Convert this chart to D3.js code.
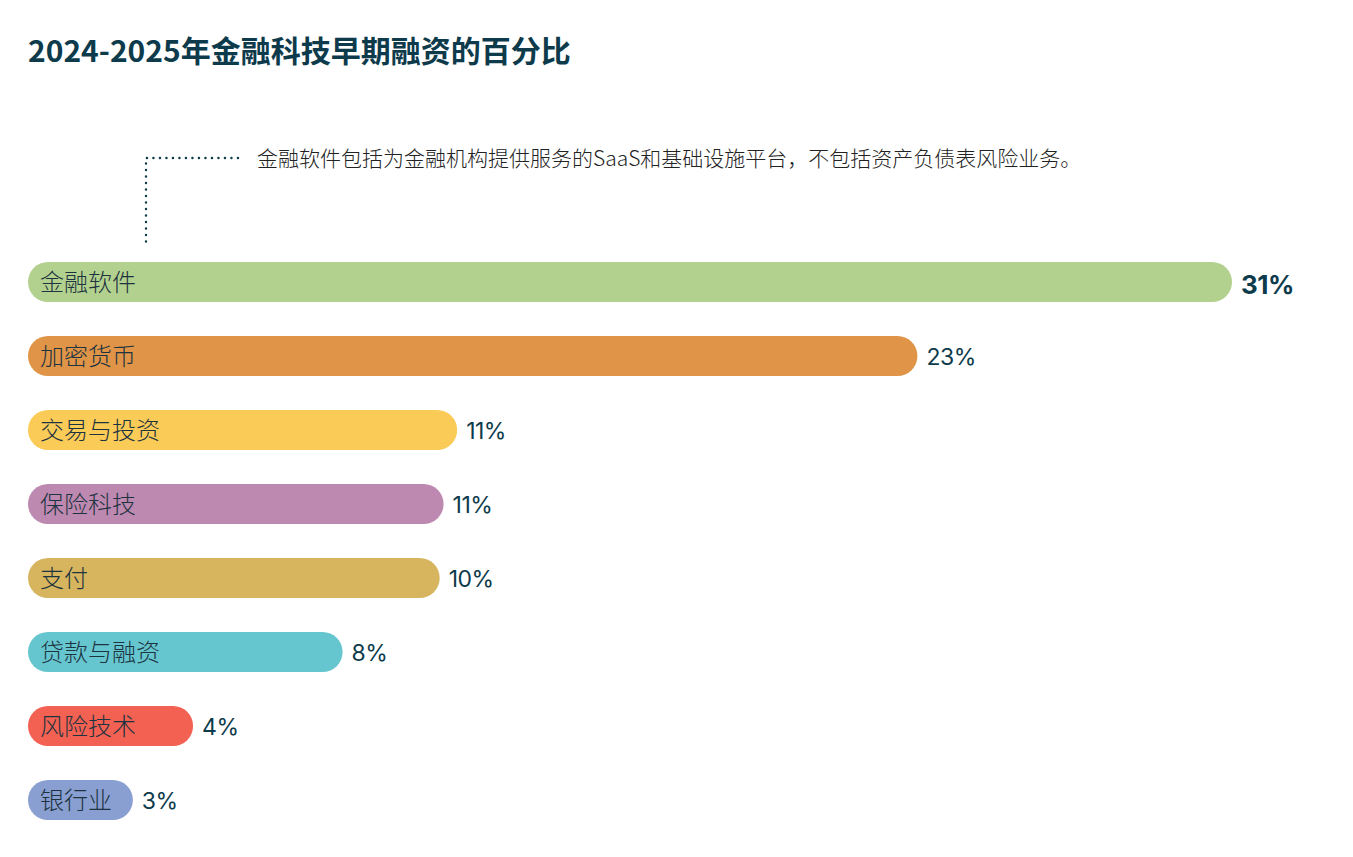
<!DOCTYPE html>
<html>
<head>
<meta charset="utf-8">
<script src="https://cdn.jsdelivr.net/npm/d3@7"></script>
<style>
  body { margin: 0; background: #fff; }
  svg { display: block; }
</style>
</head>
<body>
<div id="chart"></div>
<script>
// data
var categories = ["金融软件", "加密货币", "交易与投资", "保险科技", "支付", "贷款与融资", "风险技术", "银行业"];
var shares = [31, 22.9, 11.05, 10.7, 10.6, 8.1, 4.25, 2.7];
var shareLabels = ["31%", "23%", "11%", "11%", "10%", "8%", "4%", "3%"];
var barColors = ["#b3d18e", "#df9447", "#fbcb57", "#be89b0", "#d6b55e", "#66c6cf", "#f26152", "#8a9fd1"];

var titleText = "2024-2025年金融科技早期融资的百分比";
var noteText = "金融软件包括为金融机构提供服务的SaaS和基础设施平台，不包括资产负债表风险业务。";

var width = 1353, height = 857;
var margin = {top: 262, left: 28};
var barH = 40, step = 74;

var svg = d3.select("#chart")
  .append("svg")
    .attr("width", width)
    .attr("height", height);

// title
svg.append("text")
  .attr("x", 28)
  .attr("y", 62)
  .style("font-family", "'Noto Sans CJK SC', 'Noto Sans', sans-serif")
  .style("font-weight", 700)
  .style("font-size", "30px")
  .style("fill", "#0e3b4b")
  .text(titleText);

// x scale: 31% spans to ~1232px
var x = d3.scaleLinear()
  .domain([0, 31])
  .range([0, 1204]);

// band scale laid out so each row is `step` apart with bars `barH` tall
var y = d3.scaleBand()
  .domain(categories)
  .range([margin.top, margin.top + step * (categories.length - 1) + barH])
  .paddingInner((step - barH) / step)
  .paddingOuter(0);

var rows = svg.append("g")
  .selectAll("g")
  .data(categories)
  .enter()
  .append("g");

rows.append("rect")
  .attr("x", margin.left)
  .attr("y", function(d) { return y(d); })
  .attr("width", function(d, i) { return x(shares[i]); })
  .attr("height", y.bandwidth())
  .attr("rx", y.bandwidth() / 2)
  .style("fill", function(d, i) { return barColors[i]; });

rows.append("text")
  .attr("x", margin.left + 12)
  .attr("y", function(d) { return y(d) + y.bandwidth() / 2; })
  .attr("dy", "0.36em")
  .style("font-family", "'Noto Sans CJK SC', sans-serif")
  .style("font-weight", 300)
  .style("font-size", "24px")
  .style("fill", "#1d3340")
  .text(function(d) { return d; });

rows.append("text")
  .attr("x", function(d, i) { return margin.left + x(shares[i]) + 9; })
  .attr("y", function(d, i) { return y(d) + y.bandwidth() / 2 + (i == 0 ? 3 : 1); })
  .attr("dy", "0.36em")
  .style("font-family", "Inter, Lato, sans-serif")
  .style("font-weight", function(d, i) { return i == 0 ? 700 : 400; })
  .style("font-size", function(d, i) { return i == 0 ? "26px" : "23px"; })
  .style("letter-spacing", "-0.5px")
  .style("fill", "#0e3b4b")
  .text(function(d, i) { return shareLabels[i]; });

// annotation leader (dotted elbow)
var note = svg.append("g");
note.append("path")
  .attr("d", "M238,158 H146 V242")
  .style("fill", "none")
  .style("stroke", "#0e3b4b")
  .style("stroke-width", 2.4)
  .style("stroke-linecap", "round")
  .style("stroke-dasharray", "0.1,6.4");

note.append("text")
  .attr("x", 257)
  .attr("y", 158)
  .attr("dy", "0.36em")
  .style("font-family", "'Noto Sans CJK SC', sans-serif")
  .style("font-weight", 300)
  .style("font-size", "21px")
  .style("fill", "#222")
  .text(noteText);
</script>
</body>
</html>
